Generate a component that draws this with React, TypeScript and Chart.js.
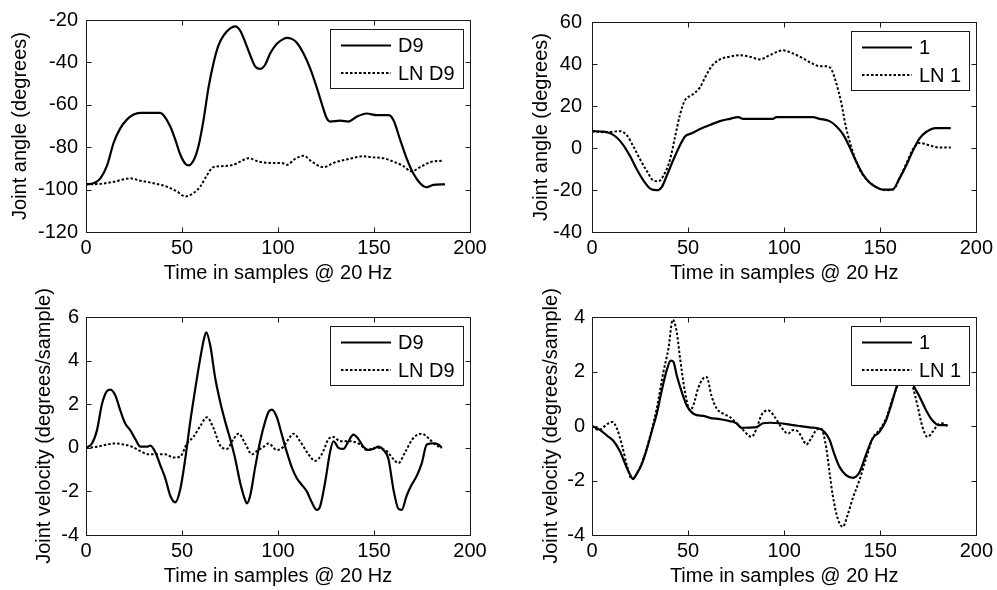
import React, { useEffect, useRef } from 'react';
import { Chart, registerables } from 'chart.js';

Chart.register(...registerables);

type Pt = [number, number];

const FONT = '"Liberation Sans", Arial, Helvetica, sans-serif';
const FS = 20;

// ---- tick labels ----
const timeTicks = [0, 50, 100, 150, 200];
const angleTicksD9 = [-120, -100, -80, -60, -40, -20];
const angleTicks1 = [-40, -20, 0, 20, 40, 60];
const velTicksD9 = [-4, -2, 0, 2, 4, 6];
const velTicks1 = [-4, -2, 0, 2, 4];

// ---- axis titles ----
const xTitle = 'Time in samples @ 20 Hz';
const angleTitle = 'Joint angle (degrees)';
const velTitle = 'Joint velocity (degrees/sample)';

// ---- legend names ----
const namesD9 = ['D9', 'LN D9'];
const names1 = ['1', 'LN 1'];

// ---- series: [time sample, value] ----
const angleD9: Pt[] = [[0,-97.5],[4,-97],[7.5,-94.7],[11,-88.6],[14.4,-77.9],[17.9,-71],[21.3,-67],[24.8,-64.6],[28.3,-63.8],[38.7,-63.8],[40.4,-64.9],[43.9,-70.2],[46.5,-76.4],[49,-83.2],[51.7,-87.8],[53.4,-88.6],[56,-86.3],[58.6,-79.4],[61.2,-67.2],[63.8,-51.9],[66.4,-40.4],[69,-32],[71.6,-27.4],[75.1,-24],[77.7,-23],[80.3,-25],[82.9,-30.4],[85.5,-36.5],[88.1,-41.9],[90.7,-43.1],[93.3,-41.1],[95.9,-35.8],[99.4,-31.2],[102.9,-28.9],[104.6,-28.4],[107.2,-28.9],[109.8,-30.7],[113.3,-35.8],[116.7,-42.7],[120.2,-51.9],[122.8,-59.5],[125.4,-66.4],[127.1,-67.9],[132.4,-67.5],[136.7,-67.9],[141,-65.6],[146.2,-64.1],[151.4,-64.9],[157.5,-64.9],[160.1,-67.2],[163.6,-76.4],[167.1,-85.5],[170.5,-92.4],[174,-97],[177.4,-98.9],[180.9,-97.8],[187,-97.5]];

const angleLND9: Pt[] = [[0,-97.5],[7.5,-97.3],[14.4,-96.3],[23,-94.7],[28.3,-95.8],[35.2,-97],[42.1,-98.6],[47.4,-100.9],[51.7,-103.2],[56,-101.6],[59.5,-98.6],[63,-93.2],[66.4,-89.4],[71.6,-88.9],[76.8,-88.3],[80.3,-86.8],[84.6,-85.2],[89.9,-86.8],[95.9,-87.4],[102,-87.5],[104.6,-88.3],[108.9,-85.5],[113.3,-84],[117.6,-86.8],[123.7,-89.4],[128.9,-87.4],[135.8,-85.8],[144.5,-84.3],[149.7,-84.8],[155,-85.2],[160.1,-86.8],[165.3,-88.9],[169.6,-91.4],[174,-89.4],[179.2,-87.1],[186.1,-86.3]];

const angle1: Pt[] = [[0,8],[6,7.8],[9.5,7],[13,4.9],[16.4,1.3],[19.9,-4],[23.3,-10.1],[26.8,-15.5],[30.3,-19.3],[33.7,-20.1],[36.3,-18.6],[38.9,-13.2],[42.4,-5.5],[45.8,1.3],[48.4,5.5],[51.9,7],[56.2,9],[61.4,11],[66.6,12.8],[71.7,13.9],[76.1,14.7],[78.6,13.9],[94.2,13.9],[96,14.7],[115,14.7],[118.4,13.9],[123.6,12.8],[127,10.5],[130.5,6.7],[134,0.6],[137.4,-6.3],[140.9,-12.4],[144.3,-16.3],[147.8,-18.6],[151.3,-19.8],[156.4,-19.8],[159.9,-14.7],[163.4,-8.6],[166.8,-1.7],[170.3,4.4],[173.7,7.5],[178.9,9.5],[186.7,9.5]];

const angleLN1: Pt[] = [[0,8],[7.8,7.5],[14.7,8],[18.2,6],[21.6,0.6],[25.1,-5.5],[28.5,-10.9],[32,-15.5],[34.6,-15.8],[37.2,-13.2],[40.6,-5.5],[43.2,5.2],[45.8,15.9],[48.4,22.8],[51.9,25.1],[56.2,28.9],[58.8,33.5],[62.2,38.9],[66.6,42.2],[71.7,43.5],[76.9,44.2],[82.1,43.5],[87.3,42.2],[92.5,44.2],[99.4,46.5],[104.6,45],[109.8,42.7],[115,40.1],[118.4,38.9],[121.9,38.9],[124.5,37.6],[127,31.2],[129.6,22],[132.2,9.8],[135.7,-1.7],[139.2,-10.1],[142.6,-14.7],[147.8,-18.6],[153,-20.1],[157.3,-19.3],[159.9,-14.7],[163.4,-7.8],[166.8,-1],[170.3,2.4],[175.5,1.3],[180.6,0.2],[186.7,0.2]];

const velD9: Pt[] = [[0,0],[3.1,0.2],[5.7,0.8],[8.3,2],[10.9,2.6],[12.7,2.67],[15.3,2.4],[17.9,1.7],[20.5,1.1],[23.1,0.8],[25.7,0.4],[28.3,0.05],[31.7,0.05],[33.5,0.1],[36.1,-0.2],[38.7,-0.8],[41.3,-1.4],[43.9,-2.2],[46.5,-2.5],[49.1,-1.9],[51.7,-0.5],[54.3,1.2],[56.9,2.7],[59.5,4.1],[61.2,4.9],[62.6,5.3],[64.7,4.7],[67.3,3.2],[69.9,2.1],[72.5,1.2],[75.1,0.4],[77.7,-0.5],[80.3,-1.6],[82.9,-2.4],[83.8,-2.55],[85.5,-2.2],[88.1,-0.9],[90.7,0.3],[93.3,1.2],[95.1,1.65],[96.8,1.75],[99.4,1.4],[102,0.6],[104.6,-0.2],[107.2,-0.9],[109.8,-1.4],[112.4,-1.7],[115,-2],[117.6,-2.5],[120.2,-2.85],[121.9,-2.7],[124.5,-1.6],[127.1,-0.2],[128.9,0.3],[131.5,0],[134.1,-0.05],[136.7,0.3],[139.3,0.6],[141.9,0.4],[144.5,0.05],[147.1,-0.1],[149.7,-0.05],[152.3,0.05],[154.9,-0.1],[157.5,-0.5],[160.1,-1.9],[162.7,-2.8],[164.4,-2.85],[167,-2.2],[169.6,-1.7],[172.2,-1.3],[174.9,-0.7],[177.5,0.15],[180.9,0.2],[183.5,0.15],[185.3,0]];

const velLND9: Pt[] = [[0,0],[5.7,0.05],[10.9,0.15],[15.3,0.2],[19.6,0.15],[23.9,0.05],[28.3,-0.15],[32.6,-0.3],[36.9,-0.3],[41.3,-0.3],[45.6,-0.45],[49.1,-0.4],[52.6,0.2],[56,0.5],[59.5,1],[63,1.4],[66.4,0.9],[69.9,0.1],[73.4,-0.05],[76.8,0.4],[79.4,0.65],[82.9,0.2],[86.4,-0.3],[89,-0.15],[92.5,0.05],[95.1,0.2],[99.4,-0.1],[102.9,0.05],[105.5,0.4],[108.1,0.65],[111.5,0.3],[115.9,-0.3],[119.3,-0.6],[122.8,-0.3],[126.3,0.4],[128.9,0.5],[132.3,0.3],[137.6,0.3],[142.8,0.15],[146.2,-0.1],[151.4,0],[156.6,-0.15],[160.9,-0.6],[162.7,-0.7],[166.2,-0.2],[170.5,0.45],[174.9,0.65],[178.3,0.45],[181.8,0.15],[185.3,0]];

const vel1: Pt[] = [[0,0],[4.3,-0.15],[7.8,-0.35],[11.2,-0.55],[14.7,-0.95],[17.3,-1.4],[19.9,-1.8],[21.3,-1.95],[23.3,-1.75],[25.9,-1.4],[28.5,-0.85],[31.1,-0.2],[33.7,0.45],[36.3,1.3],[38.9,2.05],[41,2.4],[42.4,2.35],[44.1,1.85],[46.7,1.25],[49.3,0.75],[51.9,0.5],[54.5,0.4],[57.9,0.37],[61.4,0.3],[66.6,0.25],[71.7,0.18],[75.2,0.1],[77.8,-0.07],[81.2,-0.06],[85.6,-0.04],[89,0.1],[92.5,0.12],[97.7,0.1],[102.9,0.05],[108,0],[113.2,-0.05],[118.4,-0.1],[121,-0.22],[123.6,-0.5],[126.2,-1.05],[128.8,-1.5],[132.2,-1.8],[135.7,-1.9],[139.2,-1.7],[142.6,-1.05],[146.1,-0.45],[149.5,-0.22],[153,0.2],[155.6,0.75],[158.2,1.37],[159.9,1.75],[163.5,2.4],[167.2,1.52],[170.3,1.1],[173.7,0.6],[177.2,0.2],[180.6,0.03],[185,0.03]];

const velLN1: Pt[] = [[0,0],[3.5,-0.15],[6,-0.04],[8.6,0.1],[10.7,0.15],[13,-0.1],[15.6,-0.7],[18.2,-1.45],[20.7,-1.95],[23.3,-1.75],[26.8,-1.2],[30.3,-0.35],[33.7,0.65],[37.2,2],[39.8,2.85],[42,3.9],[44.1,3.45],[45.8,2.5],[48.4,1.25],[51,0.58],[52.7,0.75],[55.3,1.4],[57.9,1.75],[59.6,1.8],[62.2,1.1],[64.8,0.65],[68.3,0.45],[71.7,0.33],[75.2,0.1],[78.7,-0.15],[81.2,-0.33],[83,-0.4],[85.6,-0.1],[88.2,0.4],[91.6,0.58],[95.1,0.33],[98.5,-0.04],[102,-0.28],[104.6,-0.15],[107.2,-0.2],[109.8,-0.5],[111.5,-0.68],[114.1,-0.45],[116.7,-0.15],[119.3,-0.1],[121.9,-0.8],[123.6,-1.7],[125.3,-2.55],[127.9,-3.4],[130.5,-3.7],[133.1,-3.25],[135.7,-2.65],[139.2,-1.98],[142.6,-1.2],[146.1,-0.45],[149.5,-0.15],[153,0.27],[156.4,1],[159,1.5],[163,2.6],[166.8,1.5],[169.4,0.75],[172,-0.04],[174.6,-0.4],[177.2,-0.22],[179.8,0.03],[182.4,0.1],[185,0]];

interface PanelSpec {
  left: number; top: number; width: number; height: number;
  plotL: number; plotR: number; plotT: number; plotB: number;
  yTitlePad: number; yTickPad: number; xTitlePad: number;
  yTicks: number[]; yTitle: string;
  solid: Pt[]; dotted: Pt[]; names: string[];
}

const panels: PanelSpec[] = [
  { left: 0, top: 0, width: 498, height: 295, plotL: 86, plotR: 470, plotT: 14, plotB: 232,
    yTitlePad: 8, yTickPad: 8, xTitlePad: 10, yTicks: angleTicksD9, yTitle: angleTitle,
    solid: angleD9, dotted: angleLND9, names: namesD9 },
  { left: 498, top: 0, width: 499, height: 295, plotL: 94, plotR: 479, plotT: 14, plotB: 232,
    yTitlePad: 31, yTickPad: 10, xTitlePad: 10, yTicks: angleTicks1, yTitle: angleTitle,
    solid: angle1, dotted: angleLN1, names: names1 },
  { left: 0, top: 265, width: 498, height: 325, plotL: 86, plotR: 470, plotT: 52, plotB: 270,
    yTitlePad: 32, yTickPad: 7, xTitlePad: 2, yTicks: velTicksD9, yTitle: velTitle,
    solid: velD9, dotted: velLND9, names: namesD9 },
  { left: 498, top: 265, width: 499, height: 325, plotL: 94, plotR: 479, plotT: 52, plotB: 270,
    yTitlePad: 41, yTickPad: 7, xTitlePad: 2, yTicks: velTicks1, yTitle: velTitle,
    solid: vel1, dotted: velLN1, names: names1 },
];

const framePlugin = {
  id: 'matlabFrame',
  afterDatasetsDraw(chart: any, _args: any, opts: any) {
    const { ctx, chartArea: a, scales } = chart;
    ctx.save();
    // legend (opaque, drawn over lines)
    ctx.font = `${FS}px ${FONT}`;
    const labels: string[] = opts.labels || [];
    const tw = Math.max(...labels.map((l) => ctx.measureText(l).width));
    const w = Math.round(11 + 50 + 7 + tw + 8);
    const h = 59;
    const right = Math.round(a.right - 7);
    const top = Math.round(a.top + 9);
    const left = right - w;
    ctx.fillStyle = '#ffffff';
    ctx.fillRect(left, top, w, h);
    ctx.strokeStyle = '#1a1a1a';
    ctx.lineWidth = 1;
    ctx.strokeRect(left + 0.5, top + 0.5, w, h);
    const rows = [top + 16.5, top + 44];
    labels.forEach((lab, i) => {
      ctx.beginPath();
      ctx.strokeStyle = '#000';
      ctx.lineWidth = i === 0 ? 2.2 : 2;
      ctx.setLineDash(i === 0 ? [] : [2.5, 2]);
      ctx.moveTo(left + 11, rows[i]);
      ctx.lineTo(left + 61, rows[i]);
      ctx.stroke();
      ctx.setLineDash([]);
      ctx.fillStyle = '#000';
      ctx.textBaseline = 'middle';
      ctx.textAlign = 'left';
      ctx.fillText(lab, left + 68, rows[i] + 1);
    });
    // axes box + inward ticks on all four sides
    const L = Math.round(a.left) + 0.5, R = Math.round(a.right) + 0.5;
    const T = Math.round(a.top) + 0.5, B = Math.round(a.bottom) + 0.5;
    ctx.strokeStyle = '#1a1a1a';
    ctx.lineWidth = 1;
    ctx.strokeRect(L, T, R - L, B - T);
    const tl = 5;
    ctx.beginPath();
    scales.x.ticks.forEach((t: any) => {
      const px = Math.round(scales.x.getPixelForValue(t.value)) + 0.5;
      ctx.moveTo(px, B); ctx.lineTo(px, B - tl);
      ctx.moveTo(px, T); ctx.lineTo(px, T + tl);
    });
    scales.y.ticks.forEach((t: any) => {
      const py = Math.round(scales.y.getPixelForValue(t.value)) + 0.5;
      ctx.moveTo(L, py); ctx.lineTo(L + tl, py);
      ctx.moveTo(R, py); ctx.lineTo(R - tl, py);
    });
    ctx.stroke();
    ctx.restore();
  },
};

function Panel({ spec }: { spec: PanelSpec }) {
  const ref = useRef<HTMLCanvasElement | null>(null);
  useEffect(() => {
    if (!ref.current) return;
    const font = { family: FONT, size: FS, lineHeight: 1.2 };
    const toXY = (arr: Pt[]) => arr.map(([x, y]) => ({ x, y }));
    const chart = new Chart(ref.current, {
      type: 'line',
      data: {
        datasets: [
          { label: spec.names[0], data: toXY(spec.solid), borderColor: '#000', borderWidth: 2.2,
            pointRadius: 0, fill: false, cubicInterpolationMode: 'monotone' },
          { label: spec.names[1], data: toXY(spec.dotted), borderColor: '#000', borderWidth: 2,
            borderDash: [2.5, 2], pointRadius: 0, fill: false, cubicInterpolationMode: 'monotone' },
        ],
      } as any,
      options: {
        animation: false,
        responsive: false,
        events: [],
        layout: { padding: { top: spec.plotT, right: spec.width - spec.plotR, left: 0, bottom: 0 } },
        plugins: {
          legend: { display: false },
          tooltip: { enabled: false },
          matlabFrame: { labels: spec.names },
        } as any,
        scales: {
          x: {
            type: 'linear',
            min: timeTicks[0],
            max: timeTicks[timeTicks.length - 1],
            afterBuildTicks: (s: any) => { s.ticks = timeTicks.map((v) => ({ value: v })); },
            ticks: { font, color: '#000', padding: 4, maxRotation: 0, autoSkip: false,
              callback: (v: any) => String(v) },
            grid: { display: false, drawTicks: false },
            border: { display: false },
            title: { display: true, text: xTitle, font, color: '#000', padding: { top: 0, bottom: spec.xTitlePad } },
            afterFit: (s: any) => { s.height = spec.height - spec.plotB; },
          },
          y: {
            type: 'linear',
            min: spec.yTicks[0],
            max: spec.yTicks[spec.yTicks.length - 1],
            afterBuildTicks: (s: any) => { s.ticks = spec.yTicks.map((v) => ({ value: v })); },
            ticks: { font, color: '#000', padding: spec.yTickPad, autoSkip: false,
              callback: (v: any) => String(v) },
            grid: { display: false, drawTicks: false },
            border: { display: false },
            title: { display: true, text: spec.yTitle, font, color: '#000', padding: { top: spec.yTitlePad, bottom: 0 } },
            afterFit: (s: any) => { s.width = spec.plotL; },
          },
        },
      } as any,
      plugins: [framePlugin as any],
    });
    return () => chart.destroy();
  }, [spec]);
  return (
    <canvas
      ref={ref}
      width={spec.width}
      height={spec.height}
      style={{ position: 'absolute', left: spec.left, top: spec.top, width: spec.width, height: spec.height }}
    />
  );
}

export default function App() {
  return (
    <div style={{ position: 'absolute', left: 0, top: 0, width: 997, height: 590, background: '#fff', overflow: 'hidden' }}>
      {panels.map((p, i) => (
        <Panel key={i} spec={p} />
      ))}
    </div>
  );
}
